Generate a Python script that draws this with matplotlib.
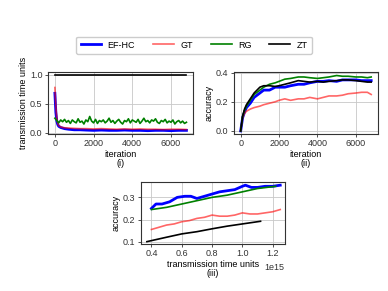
import matplotlib as mpl
mpl.use("Agg")
import matplotlib.pyplot as plt
import numpy as np

plt.rcParams['font.family'] = ['Liberation Sans', 'DejaVu Sans']
plt.rcParams['font.size'] = 6.5

# ---- panel (i): transmission time units per iteration ----
it_fast = [0, 50, 100, 150, 200, 300, 400, 500, 700, 1000, 1300, 1600, 2000, 2400,
           2800, 3200, 3600, 4000, 4400, 4800, 5200, 5600, 6000, 6400, 6800]
efhc_tt = [0.68, 0.35, 0.2, 0.14, 0.11, 0.09, 0.08, 0.07, 0.06, 0.05, 0.05, 0.045,
           0.04, 0.045, 0.04, 0.04, 0.045, 0.04, 0.04, 0.035, 0.04, 0.04, 0.035, 0.04, 0.04]
gt_tt = [0.78, 0.45, 0.25, 0.16, 0.12, 0.1, 0.09, 0.085, 0.08, 0.075, 0.07, 0.07,
         0.065, 0.07, 0.065, 0.06, 0.065, 0.06, 0.065, 0.06, 0.06, 0.055, 0.06, 0.06, 0.055]
rg_tt = [0.25, 0.21, 0.17, 0.22, 0.19, 0.23, 0.18, 0.21, 0.16, 0.22, 0.19, 0.17, 0.24,
         0.18, 0.2, 0.15, 0.22, 0.19, 0.28, 0.2, 0.17, 0.23, 0.16, 0.21, 0.19, 0.22,
         0.17, 0.2, 0.25, 0.18, 0.21, 0.16, 0.2, 0.23, 0.18, 0.15, 0.21, 0.19, 0.24,
         0.17, 0.22, 0.2, 0.18, 0.23, 0.16, 0.2, 0.25, 0.19, 0.21, 0.17, 0.22, 0.2,
         0.24, 0.18, 0.16, 0.21, 0.19, 0.23, 0.17, 0.2, 0.18, 0.22, 0.15, 0.19, 0.21,
         0.17, 0.2, 0.16, 0.18]
rg_step = 100
zt_it = [0, 6800]
zt_tt = [1.0, 1.0]

# ---- panel (ii): accuracy per iteration ----
it_acc = [0, 100, 200, 300, 500, 700, 1000, 1200, 1500, 1800, 2000, 2300, 2600, 3000,
          3300, 3600, 4000, 4300, 4600, 5000, 5300, 5600, 6000, 6300, 6600, 6800]
efhc_acc = [0.0, 0.09, 0.13, 0.16, 0.19, 0.23, 0.26, 0.28, 0.28, 0.3, 0.3, 0.3, 0.31,
            0.32, 0.32, 0.33, 0.34, 0.34, 0.345, 0.34, 0.35, 0.35, 0.35, 0.345, 0.345, 0.345]
gt_acc = [0.0, 0.09, 0.12, 0.135, 0.15, 0.16, 0.17, 0.18, 0.19, 0.2, 0.21, 0.22, 0.21,
          0.22, 0.22, 0.23, 0.22, 0.23, 0.24, 0.24, 0.245, 0.255, 0.26, 0.265, 0.265, 0.25]
rg_acc = [0.0, 0.1, 0.14, 0.17, 0.21, 0.25, 0.28, 0.3, 0.32, 0.33, 0.34, 0.355, 0.36,
          0.37, 0.37, 0.365, 0.36, 0.365, 0.37, 0.38, 0.375, 0.375, 0.37, 0.37, 0.365, 0.37]
zt_acc = [0.0, 0.1, 0.15, 0.18, 0.22, 0.26, 0.3, 0.31, 0.31, 0.305, 0.31, 0.32, 0.33,
          0.345, 0.34, 0.335, 0.34, 0.335, 0.34, 0.345, 0.35, 0.35, 0.345, 0.34, 0.335, 0.335]

# ---- panel (iii): accuracy vs transmission time ----
tt_efhc = [0.4, 0.43, 0.47, 0.52, 0.57, 0.62, 0.66, 0.7, 0.75, 0.8, 0.85, 0.9, 0.95,
           1.0, 1.02, 1.06, 1.1, 1.15, 1.2, 1.25]
efhc_tacc = [0.25, 0.27, 0.27, 0.28, 0.3, 0.305, 0.305, 0.295, 0.305, 0.315, 0.325,
             0.33, 0.335, 0.35, 0.355, 0.345, 0.345, 0.35, 0.35, 0.355]
tt_gt = [0.4, 0.45, 0.5, 0.55, 0.6, 0.65, 0.7, 0.75, 0.8, 0.85, 0.9, 0.95, 1.0, 1.05,
         1.1, 1.15, 1.2, 1.25]
gt_tacc = [0.155, 0.165, 0.175, 0.18, 0.19, 0.195, 0.205, 0.21, 0.22, 0.215, 0.215,
           0.22, 0.23, 0.225, 0.225, 0.23, 0.235, 0.245]
tt_rg = [0.4, 0.5, 0.6, 0.7, 0.8, 0.9, 1.0, 1.1, 1.22]
rg_tacc = [0.245, 0.255, 0.27, 0.285, 0.3, 0.31, 0.325, 0.34, 0.35]
tt_zt = [0.37, 0.5, 0.6, 0.7, 0.8, 0.9, 1.0, 1.12]
zt_tacc = [0.1, 0.12, 0.135, 0.145, 0.158, 0.17, 0.18, 0.192]

c_efhc, c_gt, c_rg, c_zt = "blue", "red", "green", "black"

fig = plt.figure(figsize=(3.88, 2.91), dpi=100)
ax1 = fig.add_axes([0.124, 0.54, 0.374, 0.213])
ax2 = fig.add_axes([0.603, 0.54, 0.371, 0.213])
ax3 = fig.add_axes([0.363, 0.162, 0.371, 0.213])

for ax in (ax1, ax2, ax3):
    ax.grid(True, color="#c8c8c8", linewidth=0.6)
    ax.set_axisbelow(True)
    ax.tick_params(length=2.5, width=0.6, pad=1.5, colors="#333333")
    for s in ax.spines.values():
        s.set_linewidth(0.8)
        s.set_color("#333333")

rg_it = np.arange(len(rg_tt)) * rg_step
ax1.plot(it_fast, efhc_tt, color=c_efhc, lw=2.0, label="EF-HC")
ax1.plot(it_fast, gt_tt, color=c_gt, lw=1.2, alpha=0.6, label="GT")
ax1.plot(rg_it, rg_tt, color=c_rg, lw=1.2, label="RG")
ax1.plot(zt_it, zt_tt, color=c_zt, lw=1.2, label="ZT")
ax1.set_ylabel("transmission time units", labelpad=1.5)
ax1.set_xlabel("iteration\n(i)", labelpad=1, linespacing=1.0)
ax1.set_xticks([0, 2000, 4000, 6000])
ax1.set_yticks([0.0, 0.5, 1.0])
ax1.set_xlim(-350, 7150)
ax1.set_ylim(-0.02, 1.05)

ax2.plot(it_acc, efhc_acc, color=c_efhc, lw=2.0)
ax2.plot(it_acc, gt_acc, color=c_gt, lw=1.2, alpha=0.6)
ax2.plot(it_acc, rg_acc, color=c_rg, lw=1.2)
ax2.plot(it_acc, zt_acc, color=c_zt, lw=1.2)
ax2.set_ylabel("accuracy", labelpad=1.5)
ax2.set_xlabel("iteration\n(ii)", labelpad=1, linespacing=1.0)
ax2.set_xticks([0, 2000, 4000, 6000])
ax2.set_yticks([0.0, 0.2, 0.4])
ax2.set_xlim(-350, 7150)
ax2.set_ylim(-0.02, 0.405)

sc = 1e15
ax3.plot(np.array(tt_efhc) * sc, efhc_tacc, color=c_efhc, lw=2.0)
ax3.plot(np.array(tt_gt) * sc, gt_tacc, color=c_gt, lw=1.2, alpha=0.6)
ax3.plot(np.array(tt_rg) * sc, rg_tacc, color=c_rg, lw=1.2)
ax3.plot(np.array(tt_zt) * sc, zt_tacc, color=c_zt, lw=1.2)
ax3.set_ylabel("accuracy", labelpad=1.5)
ax3.set_xlabel("transmission time units\n(iii)", labelpad=1, linespacing=1.0)
ax3.set_xticks(np.array([0.4, 0.6, 0.8, 1.0, 1.2]) * sc)
ax3.set_yticks([0.1, 0.2, 0.3])
ax3.set_xlim(0.33 * sc, 1.28 * sc)
ax3.set_ylim(0.09, 0.37)
ax3.xaxis.get_offset_text().set_fontsize(6.5)

fig.legend(loc="center", bbox_to_anchor=(0.5, 0.845), ncol=4, frameon=True,
           handlelength=2.3, handletextpad=0.7, columnspacing=2.0, borderpad=0.45,
           fancybox=True, edgecolor="#cccccc", framealpha=1.0)

fig.savefig("out.png", dpi=100)
